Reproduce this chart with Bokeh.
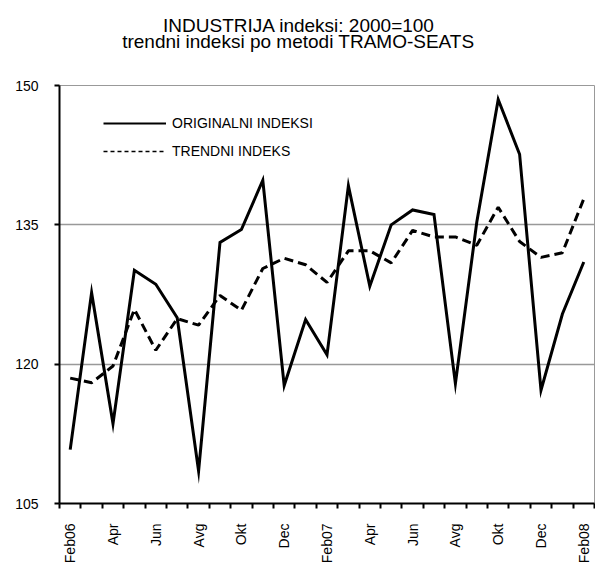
import math
from bokeh.plotting import figure
from bokeh.models import (Range1d, FixedTicker, Legend, LegendItem,
                          Title, Grid, ColumnDataSource)
from bokeh.embed import file_html
from bokeh.resources import INLINE

# ---- data ----
months = ["Feb06", "Mar", "Apr", "Maj", "Jun", "Jul", "Avg", "Sep", "Okt", "Nov", "Dec", "Jan07",
          "Feb07", "Mar", "Apr", "Maj", "Jun", "Jul", "Avg", "Sep", "Okt", "Nov", "Dec", "Jan08", "Feb08"]
original = [110.8, 127.7, 113.6, 130.1, 128.6, 125.0, 108.5, 133.1, 134.5, 139.8, 117.7, 124.8,
            121.0, 139.2, 128.4, 135.0, 136.6, 136.1, 117.9, 135.3, 148.5, 142.6, 117.2, 125.4, 131.0]
trend = [118.5, 118.0, 119.8, 125.9, 121.5, 124.9, 124.2, 127.4, 125.8, 130.3, 131.4, 130.7,
         128.8, 132.2, 132.2, 130.9, 134.4, 133.7, 133.7, 132.8, 136.9, 133.2, 131.5, 132.0, 137.8]
y_ticks = [105, 120, 135, 150]
grid_values = [120, 135]
title_lines = ["INDUSTRIJA indeksi: 2000=100", "trendni indeksi po metodi TRAMO-SEATS"]
legend_labels = ["ORIGINALNI INDEKSI", "TRENDNI INDEKS"]

FONT = "Liberation Sans"
TITLE_PX = 19
idx = list(range(len(months)))
src = ColumnDataSource(dict(x=idx, orig=original, trend=trend))

p = figure(width=595, height=574, output_backend="svg", toolbar_location=None,
           x_range=Range1d(-0.5, len(months) - 0.5), y_range=Range1d(105, 150),
           min_border_left=59, min_border_right=1, min_border_top=0, min_border_bottom=71)
p.outline_line_color = "#999999"
p.outline_line_width = 1
p.background_fill_color = "white"
p.border_fill_color = "white"

# lines
p.line("x", "orig", source=src, line_color="black", line_width=3, line_join="miter")
p.line("x", "trend", source=src, line_color="black", line_width=3, line_dash="9 5")

# x axis
xa = p.xaxis[0]
major = [i for i in idx if i % 2 == 0]
xa.ticker = FixedTicker(ticks=major, minor_ticks=[i - 0.5 for i in range(len(months) + 1)])
xa.major_label_overrides = {i: months[i] for i in major}
xa.major_label_orientation = math.pi / 2
xa.major_tick_out = 0
xa.major_tick_in = 0
xa.minor_tick_out = 5
xa.minor_tick_in = 0
xa.minor_tick_line_color = "black"
xa.minor_tick_line_width = 2
xa.axis_line_color = "black"
xa.axis_line_width = 2
xa.major_label_standoff = 15
xa.major_label_text_font = FONT
xa.major_label_text_font_size = "14px"
xa.major_label_text_color = "black"

# y axis
ya = p.yaxis[0]
ya.ticker = FixedTicker(ticks=y_ticks)
ya.major_tick_out = 5
ya.major_tick_in = 0
ya.minor_tick_out = 0
ya.minor_tick_in = 0
ya.major_tick_line_color = "black"
ya.major_tick_line_width = 2
ya.axis_line_color = "black"
ya.axis_line_width = 2
ya.major_label_standoff = 16
ya.major_label_text_font = FONT
ya.major_label_text_font_size = "14px"
ya.major_label_text_color = "black"

# grid
p.xgrid.visible = False
p.ygrid.ticker = FixedTicker(ticks=grid_values)
p.ygrid.grid_line_color = "#999999"
p.ygrid.grid_line_width = 1.5
# dark line along the top value (150)
p.add_layout(Grid(dimension=1, ticker=FixedTicker(ticks=[y_ticks[-1]]),
                  grid_line_color="black", grid_line_width=2))

# legend (separate sample renderers with thinner strokes, no visible data)
nan = float("nan")
r1 = p.line(x=[nan], y=[nan], line_color="black", line_width=2)
r2 = p.line(x=[nan], y=[nan], line_color="black", line_width=1.5, line_dash="4 3")
legend = Legend(items=[LegendItem(label=legend_labels[0], renderers=[r1]),
                       LegendItem(label=legend_labels[1], renderers=[r2])],
                location=(44, 342), glyph_width=63, glyph_height=20, label_height=20,
                label_standoff=6, spacing=8, padding=0, margin=0,
                border_line_color=None, background_fill_alpha=0,
                label_text_font=FONT, label_text_font_size="14px", label_text_color="black")
p.add_layout(legend, "center")

# title: two lines, centred on the whole picture (offsets from the frame's left edge)
def em_width(s):
    w = {"I": .278, "N": .722, "D": .722, "U": .722, "S": .667, "T": .611, "R": .722, "J": .5,
         "A": .667, "M": .833, "O": .778, "E": .667, "-": .333, " ": .278, "i": .222, "n": .556,
         "d": .556, "e": .556, "k": .5, "s": .5, ":": .278, "2": .556, "0": .556, "1": .556,
         "=": .584, "t": .278, "r": .333, "p": .556, "o": .556, "m": .833}
    return sum(w.get(c, .556) for c in s)

center_x = 298.5 - 59
spacer_bottom = Title(text=" ", text_font_size="1px", standoff=30.7)   # next to frame
t2 = Title(text=title_lines[1], align="left", vertical_align="top", standoff=-6.4,
           offset=center_x - em_width(title_lines[1]) * TITLE_PX / 2,
           text_font=FONT, text_font_size=f"{TITLE_PX}px", text_font_style="normal",
           text_color="black")
t1 = Title(text=title_lines[0], align="left", vertical_align="bottom", standoff=-3.2,
           offset=center_x - em_width(title_lines[0]) * TITLE_PX / 2,
           text_font=FONT, text_font_size=f"{TITLE_PX}px", text_font_style="normal",
           text_color="black")
spacer_top = Title(text=" ", text_font_size="1px", standoff=11.3)
for t in [spacer_bottom, t2, t1, spacer_top]:
    p.add_layout(t, "above")

open("out.html", "w").write(file_html(p, INLINE))
